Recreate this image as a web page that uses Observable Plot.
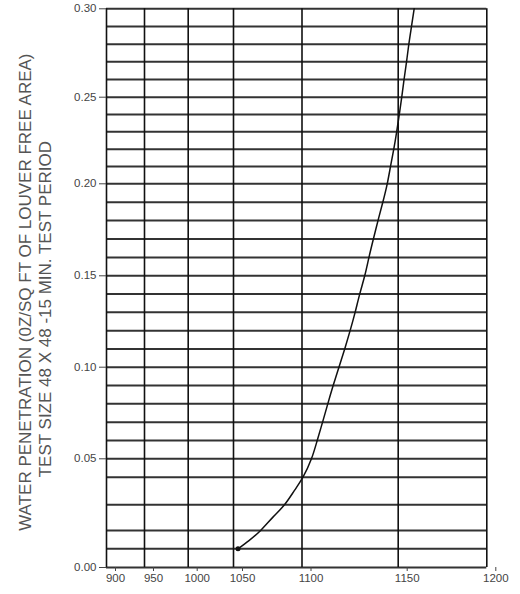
<!DOCTYPE html>
<html>
<head>
<meta charset="utf-8">
<script src="https://cdn.jsdelivr.net/npm/d3@7"></script>
<script src="https://cdn.jsdelivr.net/npm/@observablehq/plot@0.6"></script>
<style>
  html, body { margin: 0; padding: 0; background: #fff; }
</style>
</head>
<body>
<div id="chart"></div>
<script>
// Tick values / gridlines
const xTicks = [900, 950, 1000, 1050, 1100, 1150, 1200];
const yTicks = [0, 0.05, 0.10, 0.15, 0.20, 0.25, 0.30];
const yBreaks = [0, 0.01, 0.02, 0.03, 0.04, 0.05, 0.10, 0.15, 0.20, 0.25, 0.30];
const yGrid = [0, 0.01, 0.02, 0.03, 0.04, 0.05, 0.06, 0.07, 0.08, 0.09, 0.10,
               0.11, 0.12, 0.13, 0.14, 0.15, 0.16, 0.17, 0.18, 0.19, 0.20,
               0.21, 0.22, 0.23, 0.24, 0.25, 0.26, 0.27, 0.28, 0.29, 0.30];

// Curve
const penetration = [0.01, 0.0145, 0.02, 0.0252, 0.03, 0.0352, 0.04, 0.05, 0.06, 0.07, 0.08, 0.09, 0.10,
                     0.11, 0.12, 0.13, 0.14, 0.15, 0.16, 0.17, 0.18, 0.19, 0.20,
                     0.21, 0.22, 0.23, 0.24, 0.25, 0.26, 0.27, 0.28, 0.29, 0.30];
const velocity = [1053.3, 1061.3, 1069.8, 1078.8, 1087.2, 1094.5, 1100.5, 1104.9, 1107.9, 1110.7, 1113.4, 1116.2, 1119.2,
                  1122.2, 1125.0, 1127.6, 1130.0, 1132.6, 1134.8, 1137.1, 1139.5, 1142.0, 1144.3,
                  1146.0, 1147.7, 1149.2, 1150.6, 1152.0, 1153.3, 1154.7, 1156.0, 1157.5, 1159.0];

const yTitle = ["WATER PENETRATION (0Z/SQ FT OF LOUVER FREE AREA)", "TEST SIZE 48 X 48 -15 MIN. TEST PERIOD"];

const curve = velocity.map((v, i) => ({x: v, y: penetration[i]}));
const start = [curve[0]];

const chart = Plot.plot({
  width: 520,
  height: 594,
  marginLeft: 106,
  marginRight: 33.7,
  marginTop: 8.3,
  marginBottom: 27,
  x: {type: "linear", domain: xTicks, range: [106, 144, 187.7, 233, 301.5, 397.7, 486.3]},
  y: {type: "linear", domain: yBreaks, range: [567, 548.3, 530, 504.3, 476.7, 458.3, 366.7, 275.3, 183.3, 96.7, 8.3]},
  style: {fontFamily: "'Liberation Sans', Arial, sans-serif", fontSize: "11.5px", color: "#444", background: "#fff"},
  marks: [
    Plot.ruleY(yGrid, {x1: 900, x2: 1200, stroke: "#333", strokeWidth: 2}),
    Plot.ruleX(xTicks, {y1: 0, y2: 0.30, stroke: "#111", strokeWidth: 1.6}),
    Plot.axisY(yTicks, {tickFormat: d3.format(".2f"), tickSize: 7, tickPadding: 3, label: null}),
    Plot.axisX(xTicks, {tickFormat: d => String(d), tickSize: 4, tickPadding: 2, dx: 9, label: null}),
    Plot.line(curve, {x: "x", y: "y", curve: "natural", stroke: "#111", strokeWidth: 1.5}),
    Plot.dot(start, {x: "x", y: "y", r: 2.5, fill: "#111"}),
    Plot.text([yTitle[0]], {frameAnchor: "left", textAnchor: "middle", rotate: -90, dx: -81, dy: 4, fontSize: 17, fill: "#555"}),
    Plot.text([yTitle[1]], {frameAnchor: "left", textAnchor: "middle", rotate: -90, dx: -61, dy: 21, fontSize: 17, fill: "#555"})
  ]
});
document.getElementById("chart").appendChild(chart);
</script>
</body>
</html>
